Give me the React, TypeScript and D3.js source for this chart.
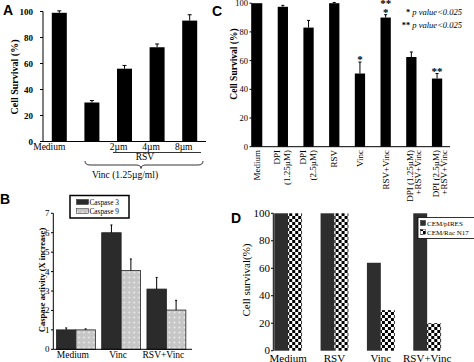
import React from "react";
import * as d3 from "d3";

// Panel A: cell survival, Vinc alone and with RSV
const aCats = ["Medium", "Vinc", "RSV 2µm", "RSV 4µm", "RSV 8µm"];
const aTickText = ["Medium", "", "2µm", "4µm", "8µm"];
const aValues = [99, 30, 56, 72.5, 93];
const aErrors = [1.5, 1.5, 2.5, 2.5, 4.5];
const aTicks = [0, 20, 40, 60, 80, 100];

// Panel C: DPI / RSV / Vinc combinations
const cCats = ["Medium", "DPI1", "DPI2", "RSV", "Vinc", "RSVVinc", "DPI1RSVVinc", "DPI2RSVVinc"];
const cLabels = [
  ["Medium"],
  ["DPI", "(1.25µM)"],
  ["DPI", "(2.5µM)"],
  ["RSV"],
  ["Vinc"],
  ["RSV+Vinc"],
  ["DPI (1.25µM)", "+RSV+Vinc"],
  ["DPI (2.5µM)", "+RSV+Vinc"],
];
const cValues = [100, 97.5, 83, 100, 51, 90, 62.5, 47.5];
const cErrors = [0, 1, 5, 0.5, 8, 2, 3.5, 3.5];
const cStars = ["", "", "", "", "*", "*", "", "**"];
const cTicks = [0, 20, 40, 60, 80, 100];

// Panel B: caspase activity
const bGroups = ["Medium", "Vinc", "RSV+Vinc"];
const bSeries = ["Caspase 3", "Caspase 9"];
const bCasp3 = [1.0, 6.0, 3.1];
const bCasp3Err = [0.1, 0.4, 0.6];
const bCasp9 = [1.0, 4.05, 2.02];
const bCasp9Err = [0.05, 0.6, 0.5];
const bTicks = [0, 1, 2, 3, 4, 5, 6, 7];

// Panel D: transfected cells
const dGroups = ["Medium", "RSV", "Vinc", "RSV+Vinc"];
const dSeries = ["CEM/pIRES", "CEM/Rac N17"];
const dPires = [100, 100, 64, 100];
const dN17 = [100, 100, 29.5, 20];
const dTicks = [0, 20, 40, 60, 80, 100];

const serif = "'Liberation Serif', 'Times New Roman', serif";
const sans = "'Liberation Sans', Arial, sans-serif";

function ErrBar({ x, y0, y1, cap = 2 }: { x: number; y0: number; y1: number; cap?: number }) {
  return (
    <g stroke="#000" strokeWidth={1}>
      <line x1={x} x2={x} y1={y0} y2={y1} />
      <line x1={x - cap} x2={x + cap} y1={y1} y2={y1} />
    </g>
  );
}

function PanelA() {
  const y = d3.scaleLinear().domain([0, 100]).range([141.5, 11.5]);
  const x = d3.scaleBand().domain(aCats).range([43, 206]).paddingInner(0.54).paddingOuter(0.27);
  const bw = x.bandwidth();
  return (
    <g fontFamily={serif} fill="#000">
      <text x={3} y={15} fontFamily={sans} fontWeight="bold" fontSize={14}>A</text>
      {aCats.map((c, i) => (
        <g key={c}>
          <rect x={x(c)!} y={y(aValues[i])} width={bw} height={y(0) - y(aValues[i])} fill="#000" />
          <ErrBar x={x(c)! + bw / 2} y0={y(aValues[i])} y1={y(aValues[i] + aErrors[i])} />
        </g>
      ))}
      <line x1={43} x2={43} y1={y(100)} y2={y(0)} stroke="#000" />
      <line x1={43} x2={206} y1={y(0)} y2={y(0)} stroke="#000" />
      {aTicks.map((t) => (
        <g key={t}>
          <line x1={40} x2={43} y1={y(t)} y2={y(t)} stroke="#000" />
          <text x={33} y={y(t) + 3} textAnchor="end" fontSize={9} fontWeight="bold">{t}</text>
        </g>
      ))}
      {aCats.map((c, i) => (
        <text key={c} x={x(c)! + bw / 2 - (i === 0 ? 10 : 6)} y={150} textAnchor="middle" fontSize={9.5}>
          {aTickText[i]}
        </text>
      ))}
      <line x1={113} x2={201} y1={152.5} y2={152.5} stroke="#000" strokeWidth={0.8} />
      <text x={145} y={160} textAnchor="middle" fontSize={9.5}>RSV</text>
      <path d="M85,161 Q85,165 90,165 L136,165 Q141,165 141,168.5 Q141,165 146,165 L198,165 Q203,165 203,161"
        fill="none" stroke="#000" strokeWidth={0.8} />
      <text x={125} y={178} textAnchor="middle" fontSize={9.5}>Vinc (1.25µg/ml)</text>
      <text transform="translate(18,77) rotate(-90)" textAnchor="middle" fontSize={10} fontWeight="bold">
        Cell Survival (%)
      </text>
    </g>
  );
}

function PanelC() {
  const y = d3.scaleLinear().domain([0, 100]).range([146.7, 3.2]);
  const x = d3.scaleBand().domain(cCats).range([252, 442.2]).paddingInner(0.6).paddingOuter(0);
  const bw = x.bandwidth();
  return (
    <g fontFamily={serif} fill="#000">
      <text x={212} y={16} fontFamily={sans} fontWeight="bold" fontSize={14}>C</text>
      {cCats.map((c, i) => {
        const cx = x(c)! + bw / 2;
        const top = y(cValues[i] + cErrors[i]);
        return (
          <g key={c}>
            <rect x={x(c)!} y={y(cValues[i])} width={bw} height={y(0) - y(cValues[i])} fill="#000" />
            {cErrors[i] > 0 && <ErrBar x={cx} y0={y(cValues[i])} y1={top} cap={1.5} />}
            {cStars[i] && (
              <text x={cx} y={top + 1} textAnchor="middle" fontSize={11} fontWeight="bold" fill="#000">
                {cStars[i]}
              </text>
            )}
            {i === 5 && (
              <text x={cx} y={top - 7.5} textAnchor="middle" fontSize={11} fontWeight="bold" fill="#000">**</text>
            )}
          </g>
        );
      })}
      <line x1={251.7} x2={251.7} y1={y(100)} y2={y(0)} stroke="#000" />
      <line x1={251.7} x2={450} y1={y(0)} y2={y(0)} stroke="#000" />
      {cTicks.map((t) => (
        <g key={t}>
          <line x1={249.5} x2={251.7} y1={y(t)} y2={y(t)} stroke="#000" />
          <text x={248} y={y(t) + 3} textAnchor="end" fontSize={8.5}>{t}</text>
        </g>
      ))}
      {cCats.map((c, i) => {
        const cx = x(c)! + bw / 2;
        const lines = cLabels[i];
        const offs = lines.length === 1 ? [3] : i < 6 ? [-2.5, 7.5] : [1.5, 10];
        return lines.map((l, j) => (
          <text key={c + j} transform={`translate(${cx + offs[j]},150) rotate(-90)`} textAnchor="end" fontSize={9}>
            {l}
          </text>
        ));
      })}
      <text transform="translate(237,64) rotate(-90)" textAnchor="middle" fontSize={9.5} fontWeight="bold">
        Cell Survival (%)
      </text>
      <text x={462} y={15} textAnchor="end" fontSize={8.5}>
        <tspan fontWeight="bold">* </tspan>
        <tspan fontStyle="italic">p value&lt;0.025</tspan>
      </text>
      <text x={462} y={28} textAnchor="end" fontSize={8.5}>
        <tspan fontWeight="bold">** </tspan>
        <tspan fontStyle="italic">p value&lt;0.025</tspan>
      </text>
    </g>
  );
}

function PanelB() {
  const y = d3.scaleLinear().domain([0, 7]).range([349.3, 213.3]);
  const x0 = d3.scaleBand().domain(bGroups).range([53.3, 189]).paddingInner(0.14).paddingOuter(0.07);
  const x1 = d3.scaleBand().domain(bSeries).range([0, x0.bandwidth()]);
  const bw = x1.bandwidth();
  const vals = [bCasp3, bCasp9];
  const errs = [bCasp3Err, bCasp9Err];
  const fills = ["#2b2b2b", "url(#dots)"];
  return (
    <g fontFamily={serif} fill="#000">
      <text x={0} y={204} fontFamily={sans} fontWeight="bold" fontSize={14}>B</text>
      {bGroups.map((g, gi) => (
        <g key={g} transform={`translate(${x0(g)},0)`}>
          {bSeries.map((s, si) => (
            <g key={s}>
              <rect x={x1(s)!} y={y(vals[si][gi])} width={bw} height={y(0) - y(vals[si][gi])}
                fill={fills[si]} stroke="#222" strokeWidth={0.8} />
              <ErrBar x={x1(s)! + bw / 2} y0={y(vals[si][gi])} y1={y(vals[si][gi] + errs[si][gi])} cap={1} />
            </g>
          ))}
        </g>
      ))}
      <line x1={53.3} x2={53.3} y1={y(7)} y2={y(0)} stroke="#000" />
      <line x1={53.3} x2={192} y1={y(0)} y2={y(0)} stroke="#000" />
      {bTicks.map((t) => (
        <g key={t}>
          <line x1={51} x2={53.3} y1={y(t)} y2={y(t)} stroke="#000" />
          <text x={49.5} y={y(t) + 3} textAnchor="end" fontSize={9}>{t}</text>
        </g>
      ))}
      {bGroups.map((g) => (
        <text key={g} x={x0(g)! + x0.bandwidth() / 2 - 3} y={358} textAnchor="middle" fontSize={9.5}>{g}</text>
      ))}
      <text transform="translate(45,280) rotate(-90)" textAnchor="middle" fontSize={8.5} fontWeight="bold">
        Caspase activity (X increase)
      </text>
      <rect x={70} y={195.5} width={59} height={22.5} fill="#fff" stroke="#000" strokeWidth={1.5} />
      {bSeries.map((s, si) => (
        <g key={s}>
          <rect x={76.5} y={199.5 + si * 9} width={12} height={5} fill={fills[si]} stroke="#222" strokeWidth={0.5} />
          <text x={89.5} y={204.5 + si * 9} fontSize={7.3}>{s}</text>
        </g>
      ))}
    </g>
  );
}

function PanelD() {
  const y = d3.scaleLinear().domain([0, 100]).range([350.7, 213.3]);
  const x0 = d3.scaleBand().domain(dGroups).range([273.3, 442]).paddingInner(0.4).paddingOuter(0.02);
  const x1 = d3.scaleBand().domain(dSeries).range([0, x0.bandwidth()]);
  const bw = x1.bandwidth();
  const vals = [dPires, dN17];
  const fills = ["#2e2e2e", "url(#checker)"];
  return (
    <g fontFamily={serif} fill="#000">
      <text x={231} y={223} fontFamily={sans} fontWeight="bold" fontSize={14}>D</text>
      {dGroups.map((g, gi) => (
        <g key={g} transform={`translate(${x0(g)},0)`}>
          {dSeries.map((s, si) => (
            <rect key={s} x={x1(s)!} y={y(vals[si][gi])} width={bw} height={y(0) - y(vals[si][gi])} fill={fills[si]} />
          ))}
        </g>
      ))}
      <line x1={273.3} x2={273.3} y1={y(100)} y2={y(0)} stroke="#000" />
      {dTicks.map((t) => (
        <g key={t}>
          <line x1={271} x2={273.3} y1={y(t)} y2={y(t)} stroke="#000" />
          <text x={270} y={y(t) + 3.5} textAnchor="end" fontSize={11}>{t}</text>
        </g>
      ))}
      {dGroups.map((g) => (
        <text key={g} x={x0(g)! + x0.bandwidth() / 2} y={362} textAnchor="middle" fontSize={11}>{g}</text>
      ))}
      <text transform="translate(250,280) rotate(-90)" textAnchor="middle" fontSize={11}>Cell survival(%)</text>
      <rect x={418} y={217.5} width={60} height={21} fill="#fff" stroke="#000" strokeWidth={0.8} />
      {dSeries.map((s, si) => (
        <g key={s}>
          <rect x={420.5} y={220.5 + si * 9} width={5} height={5} fill={fills[si]} stroke="#000" strokeWidth={0.4} />
          <text x={427} y={225.5 + si * 9} fontSize={7}>{s}</text>
        </g>
      ))}
    </g>
  );
}

export default function App() {
  return (
    <svg width={474} height={362} style={{ position: "absolute", left: 0, top: 0, background: "#fff" }}>
      <defs>
        <pattern id="dots" width={5} height={5} patternUnits="userSpaceOnUse">
          <rect width={5} height={5} fill="#c6c6c6" />
          <circle cx={2.5} cy={2.5} r={0.9} fill="#efefef" />
        </pattern>
        <pattern id="checker" width={6} height={6} patternUnits="userSpaceOnUse">
          <rect width={6} height={6} fill="#fff" />
          <rect width={3} height={3} fill="#000" />
          <rect x={3} y={3} width={3} height={3} fill="#000" />
        </pattern>
      </defs>
      <rect width={474} height={362} fill="#fff" />
      <PanelA />
      <PanelC />
      <PanelB />
      <PanelD />
    </svg>
  );
}
